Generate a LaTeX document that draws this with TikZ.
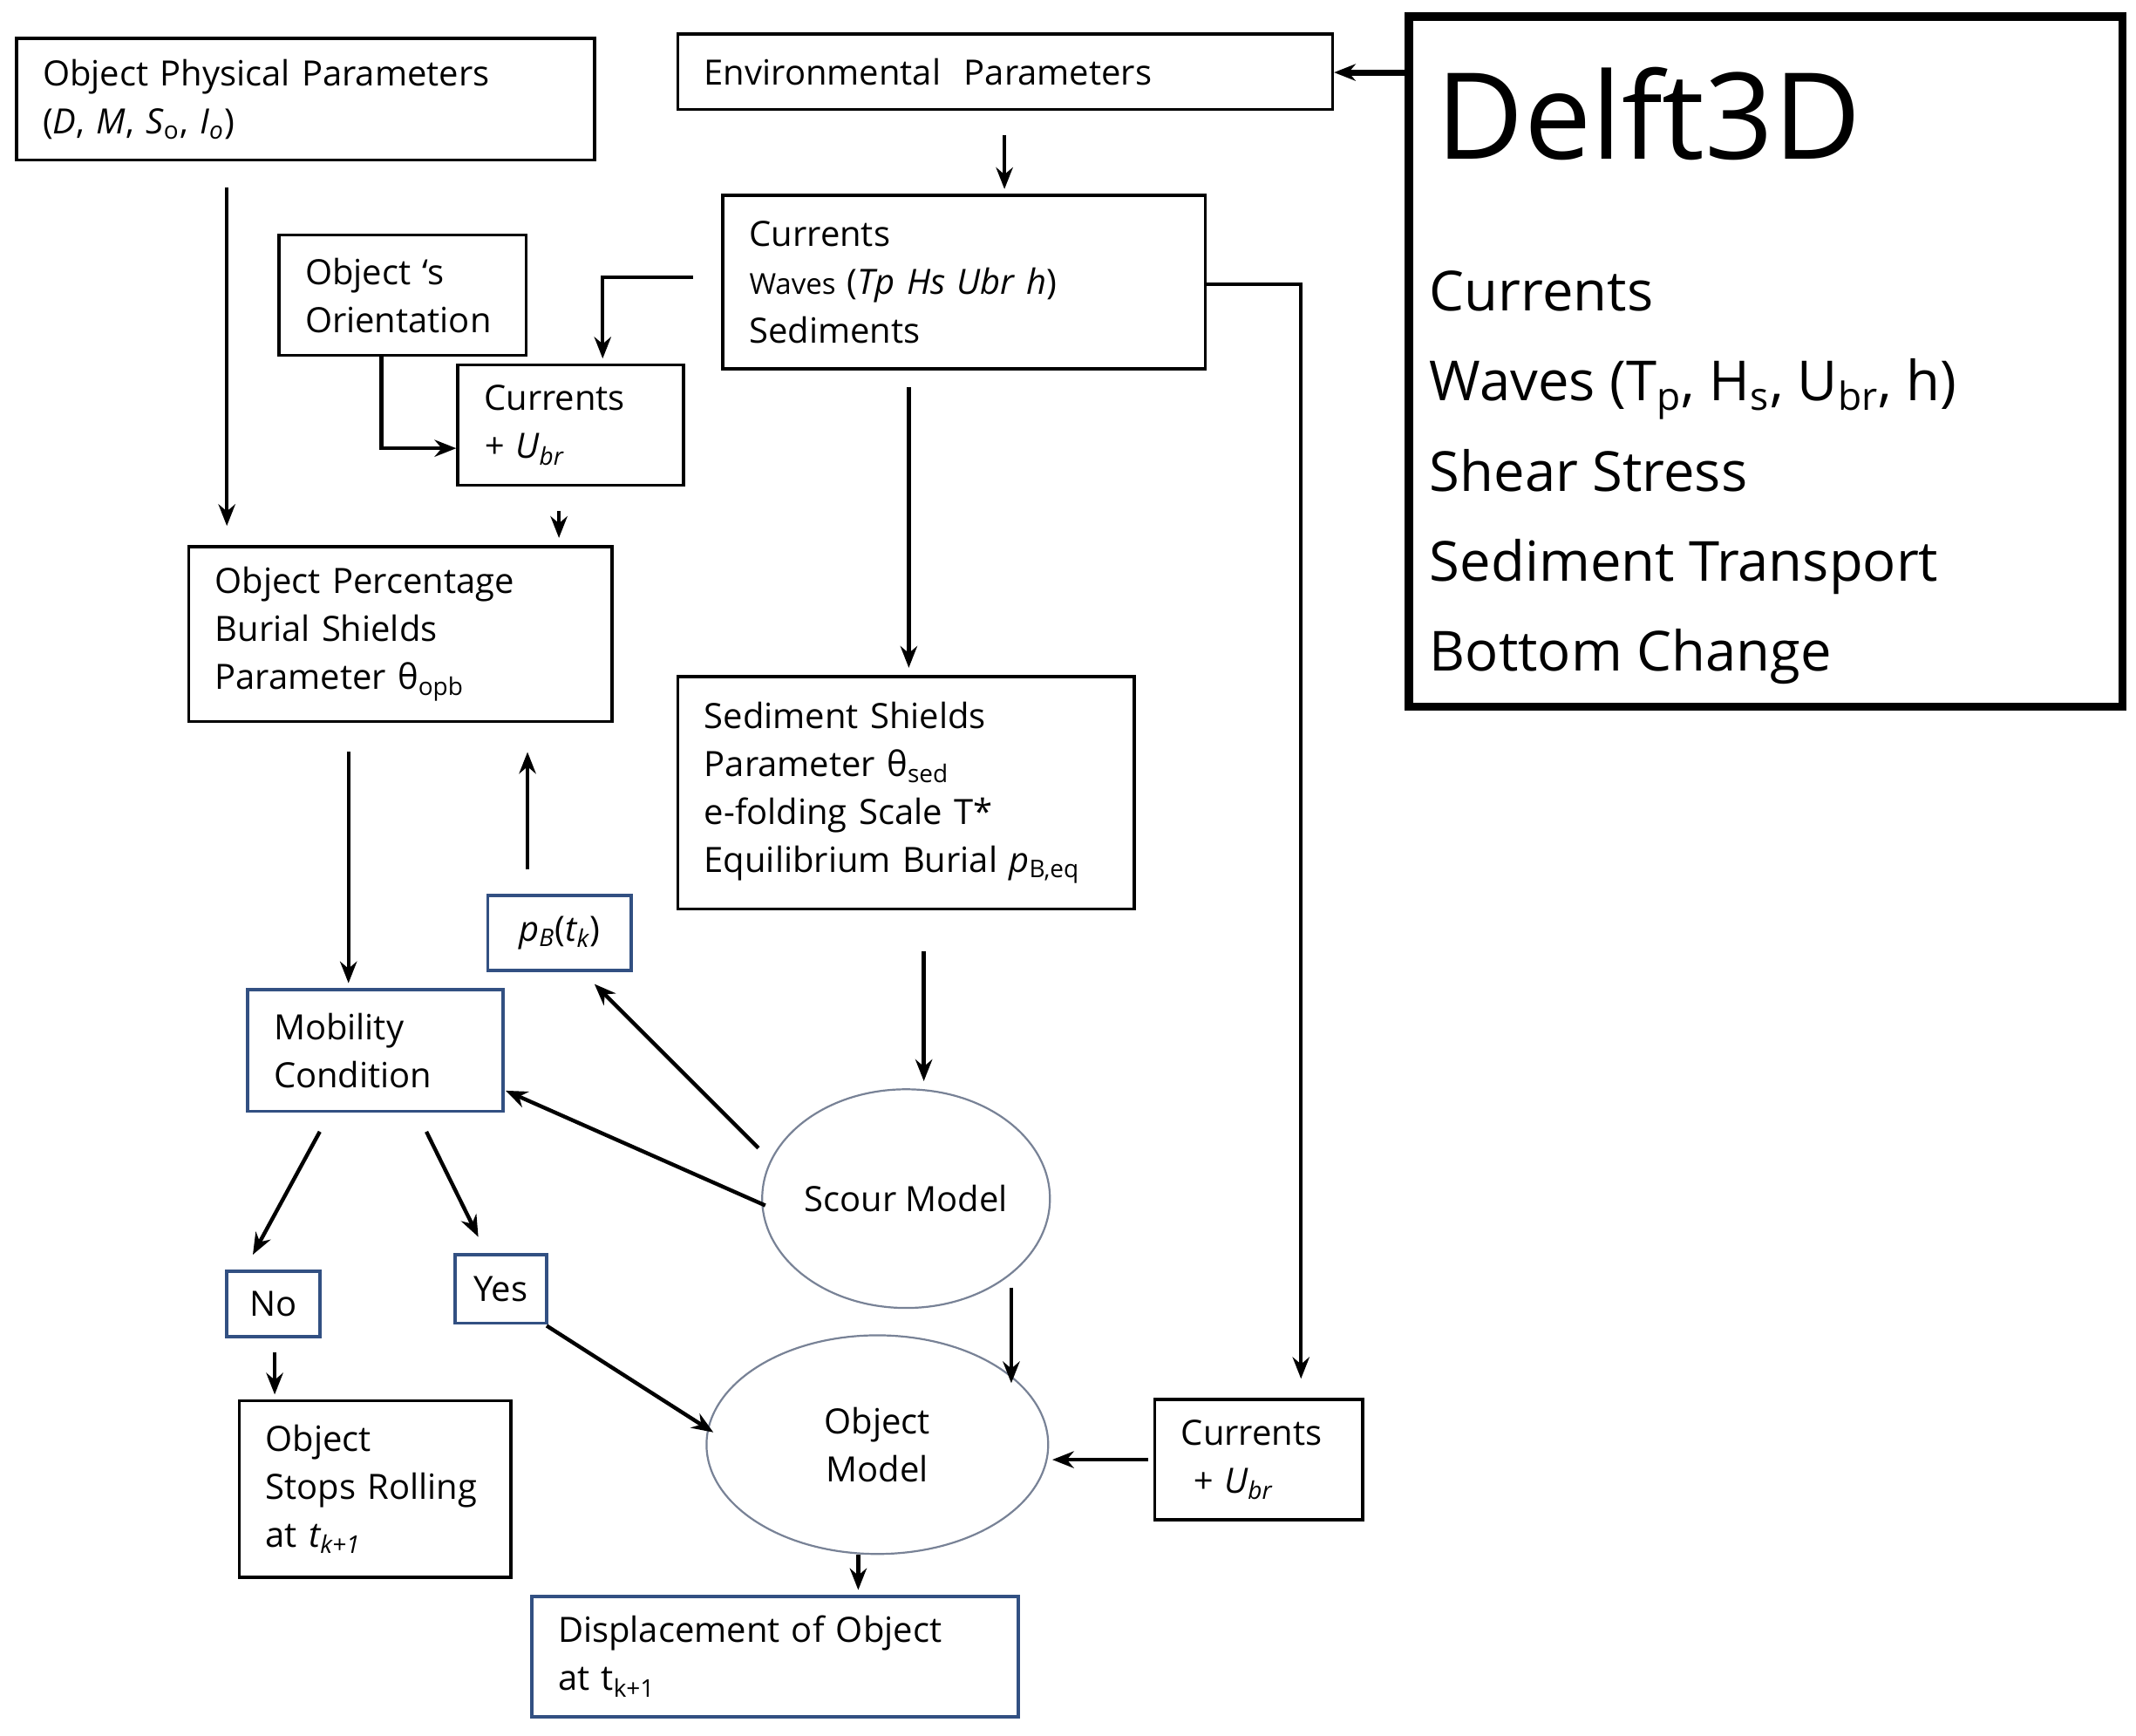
\documentclass[tikz,border=0pt]{standalone}
\usepackage{fontspec}
\setmainfont{Open Sans}
\usetikzlibrary{shapes.geometric,arrows.meta}
\newcommand{\sbs}[1]{\textsubscript{#1}}
\begin{document}
\begin{tikzpicture}[x=0.02cm,y=-0.02cm,
  every node/.style={font=\fontsize{14.5}{20}\selectfont},
  bx/.style={draw=black,line width=1.3pt,rectangle,align=left,inner sep=0pt,anchor=center},
  bb/.style={bx,draw={rgb,255:red,50;green,80;blue,130}},
  el/.style={draw={rgb,255:red,120;green,130;blue,150},line width=0.8pt,ellipse,inner sep=0pt,align=center},
  ar/.style={-{Stealth[length=9pt,width=7pt]},line width=1.6pt}]
\useasboundingbox (0,0) rectangle (1563,1270);
% boxes: center, width, height
\newcommand{\bxn}[7]{\node[#1,minimum width=#4*0.02cm,minimum height=#5*0.02cm,text width=#4*0.02cm-22pt] (#2) at (#3) {#6};}
\bxn{bx}{opp}{223.5,72.5}{423}{89}{Object Physical Parameters\\(\textit{D}, \textit{M}, \textit{S}\sbs{o}, \textit{I\sbs{o}})}{}
\bxn{bx}{env}{735.5,52.5}{479}{55}{Environmental\ \ Parameters}{}
\node[draw=black,line width=3.5pt,minimum width=522*0.02cm,minimum height=505*0.02cm] (delft) at (1292,264.5) {};
\node[anchor=west,font=\fontsize{50}{60}\selectfont] (dtitle) at (1045,83) {Delft3D};
\node[anchor=north west,align=left,font=\fontsize{23}{37.5}\selectfont] (dtext) at (1040,192) {Currents\\Waves (T\sbs{p}, H\sbs{s}, U\sbs{br}, h)\\Shear Stress\\Sediment Transport\\Bottom Change};
\bxn{bx}{cur1}{705.5,206.5}{353}{127}{Currents\\{\fontsize{12}{20}\selectfont Waves} (\textit{Tp Hs Ubr h})\\Sediments}{}
\bxn{bx}{ori}{294.5,216}{181}{88}{Object ‘s\\Orientation}{}
\bxn{bx}{cu1}{417.5,311}{165}{88}{Currents\\\textit{+ U\sbs{br}}}{}
\bxn{bx}{opb}{293,464}{310}{128}{Object Percentage\\Burial Shields\\Parameter θ\sbs{opb}}{}
\bxn{bx}{sed}{663,580}{334}{170}{Sediment Shields\\Parameter θ\sbs{sed}\\e-folding Scale T*\\Equilibrium Burial \textit{p}\sbs{B,eq}}{}
\node[bb,minimum width=105*0.02cm,minimum height=55*0.02cm] (pb) at (409.5,682.5) {\textit{p\sbs{B}}(\textit{t\sbs{k}})};
\bxn{bb}{mob}{274.5,768.5}{187}{89}{Mobility\\Condition}{}
\node[el,minimum width=204*0.02cm,minimum height=160*0.02cm] (scour) at (663,877) {Scour Model};
\node[bb,minimum width=68*0.02cm,minimum height=48*0.02cm] (no) at (200,954) {No};
\node[bb,minimum width=67*0.02cm,minimum height=50*0.02cm] (yes) at (366.5,943) {Yes};
\bxn{bx}{stop}{274.5,1089.5}{199}{129}{Object\\Stops Rolling\\at \textit{t\sbs{k+1}}}{}
\node[el,minimum width=250*0.02cm,minimum height=160*0.02cm] (obj) at (642,1057) {Object\\Model};
\bxn{bx}{cu2}{921,1068}{152}{88}{Currents\\\ \textit{+ U\sbs{br}}}{}
\bxn{bb}{disp}{567,1212}{356}{88}{Displacement of Object\\at t\sbs{k+1}}{}
% connectors
\draw[ar,line width=2.5pt] (delft.west |- 0,53) -- (env.east |- 0,53);
\draw[ar,shorten <=10pt,shorten >=2pt] (735,0 |- env.south) -- (735,0 |- cur1.north);
\draw[ar,shorten >=2pt] (507,203) -- (441,203) -- (441,0 |- cu1.north);
\draw[ar] (279,0 |- ori.south) -- (279,328) -- (cu1.west |- 0,328);
\draw[ar,shorten <=10pt,shorten >=3pt] (409,0 |- cu1.south) -- (409,0 |- opb.north);
\draw[ar,shorten <=11pt,shorten >=8pt] (166,0 |- opp.south) -- (166,0 |- opb.north);
\draw[ar,shorten <=7pt,shorten >=3pt] (665,0 |- cur1.south) -- (665,0 |- sed.north);
\draw[ar,shorten >=8pt] (cur1.east |- 0,208) -- (952,208) -- (952,0 |- cu2.north);
\draw[ar,shorten <=12pt,shorten >=2pt] (255,0 |- opb.south) -- (255,0 |- mob.north);
\draw[ar,shorten <=10pt,shorten >=12pt] (386,0 |- pb.north) -- (386,0 |- opb.south);
\draw[ar,shorten <=17pt,shorten >=3pt] (676,0 |- sed.south) -- (676,0 |- scour.north);
\draw[ar] (555,840) -- (435,720);
\draw[ar] (560,882) -- (370,798);
\draw[ar] (234,828) -- (185,918);
\draw[ar] (312,828) -- (350,905);
\draw[ar,shorten <=6pt,shorten >=2pt] (201,0 |- no.south) -- (201,0 |- stop.north);
\draw[ar] (400,970) -- (522,1048);
\draw[ar] (740,942) -- (740,1012);
\draw[ar,shorten <=2pt] (cu2.west |- 0,1068) -- (770,1068);
\draw[ar,shorten >=2pt] (628,0 |- obj.south) -- (628,0 |- disp.north);
\end{tikzpicture}
\end{document}
